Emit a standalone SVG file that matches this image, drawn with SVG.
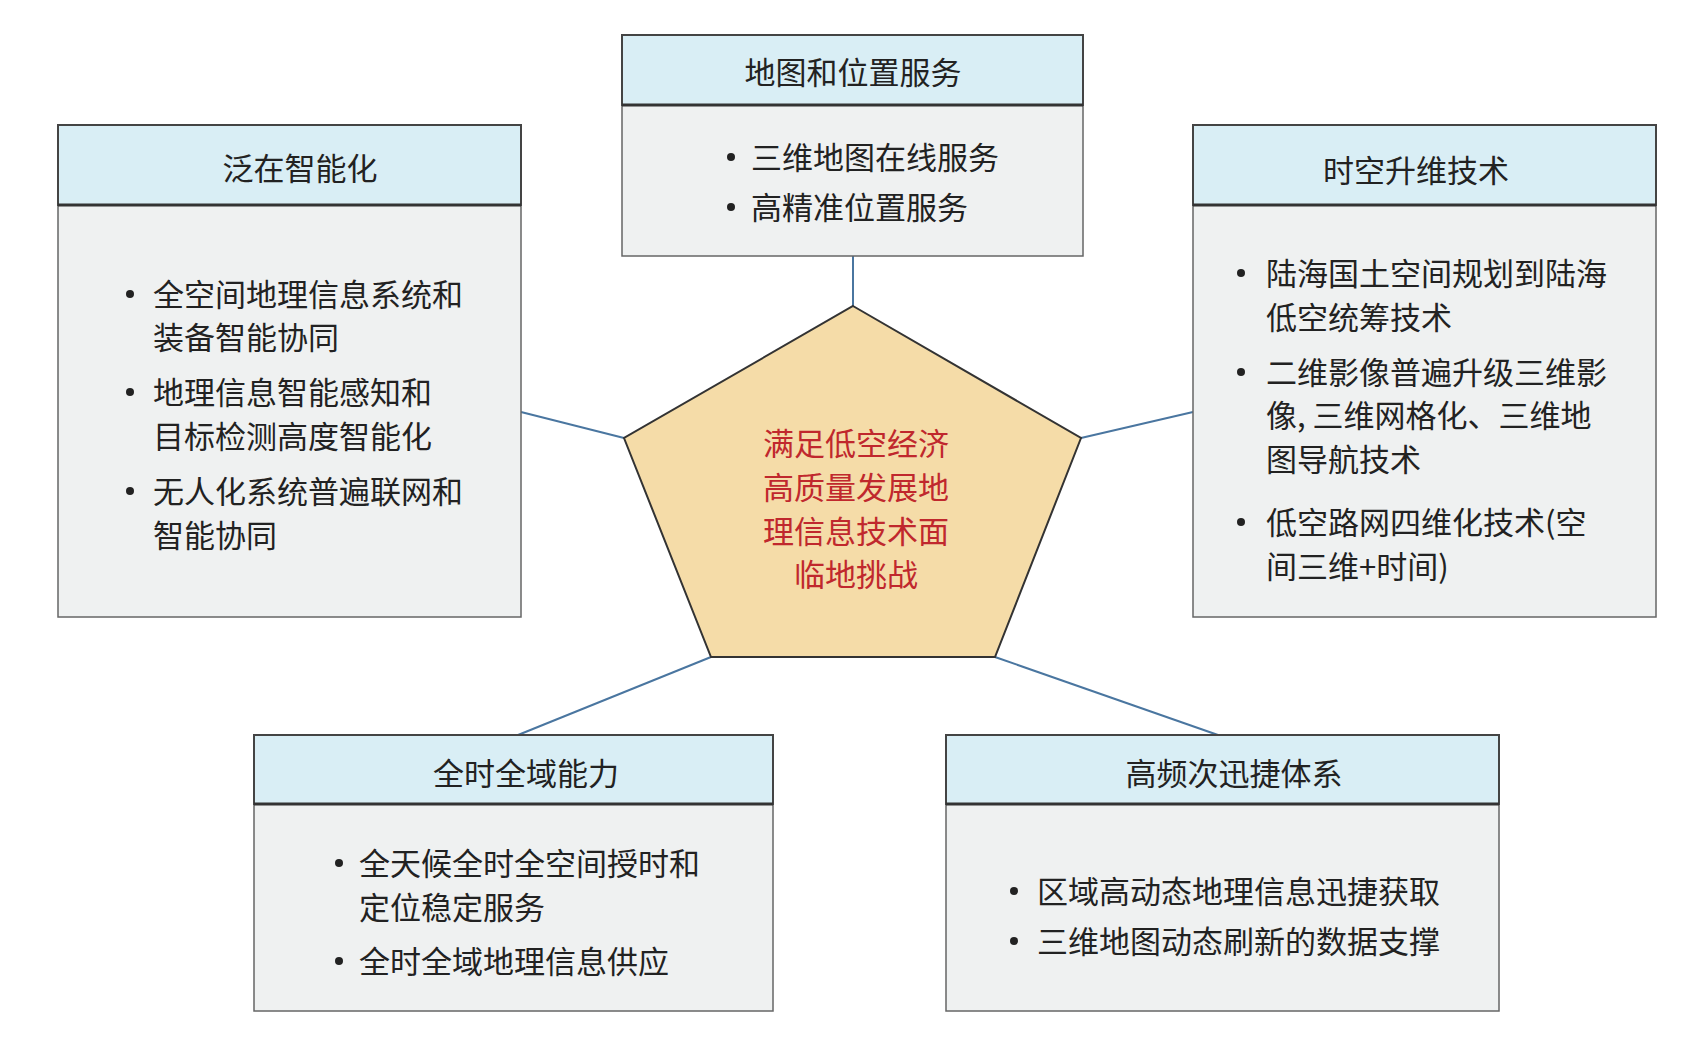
<svg xmlns="http://www.w3.org/2000/svg" width="1685" height="1057" viewBox="0 0 1685 1057">
<style>
text{font-family:"Noto Sans CJK SC","Liberation Serif",sans-serif;font-size:31px;fill:#222;dominant-baseline:central}
.hd{fill:#d9eef5;stroke:#444;stroke-width:2}
.bd{fill:#eff1f1;stroke:#666;stroke-width:1.5}
.hl{stroke:#333;stroke-width:3}
.c{stroke:#4a76a0;stroke-width:2;fill:none}
.t{text-anchor:middle}
.r{fill:#c0282d;text-anchor:middle}
.b{fill:#222}
</style>
<rect width="1685" height="1057" fill="#fff"/>
<g id="connectors">
<line class="c" x1="853" y1="256" x2="853" y2="306"/>
<line class="c" x1="521" y1="412" x2="624" y2="438"/>
<line class="c" x1="1081" y1="438" x2="1193" y2="412"/>
<line class="c" x1="711" y1="657" x2="518" y2="735"/>
<line class="c" x1="995" y1="657" x2="1218" y2="735"/>
</g>
<g id="center">
<polygon points="853,306 1081,438 995,657 711,657 624,438" fill="#f5dca8" stroke="#333" stroke-width="2"/>
<text class="r" x="856" y="441">满足低空经济</text>
<text class="r" x="856" y="485">高质量发展地</text>
<text class="r" x="856" y="529">理信息技术面</text>
<text class="r" x="856" y="572">临地挑战</text>
</g>
<g id="top">
<rect class="bd" x="622" y="35" width="461" height="221"/>
<rect class="hd" x="622" y="35" width="461" height="70"/>
<line class="hl" x1="622" y1="105" x2="1083" y2="105"/>
<text class="t" x="853" y="70">地图和位置服务</text>
<circle class="b" cx="731" cy="157" r="4"/><text x="751" y="155">三维地图在线服务</text>
<circle class="b" cx="731" cy="207" r="4"/><text x="751" y="205">高精准位置服务</text>
</g>
<g id="left">
<rect class="bd" x="58" y="125" width="463" height="492"/>
<rect class="hd" x="58" y="125" width="463" height="80"/>
<line class="hl" x1="58" y1="205" x2="521" y2="205"/>
<text class="t" x="300" y="166">泛在智能化</text>
<circle class="b" cx="130" cy="294" r="4"/><text x="153" y="292">全空间地理信息系统和</text>
<text x="153" y="335">装备智能协同</text>
<circle class="b" cx="130" cy="392" r="4"/><text x="153" y="390">地理信息智能感知和</text>
<text x="153" y="434">目标检测高度智能化</text>
<circle class="b" cx="130" cy="491" r="4"/><text x="153" y="489">无人化系统普遍联网和</text>
<text x="153" y="533">智能协同</text>
</g>
<g id="right">
<rect class="bd" x="1193" y="125" width="463" height="492"/>
<rect class="hd" x="1193" y="125" width="463" height="80"/>
<line class="hl" x1="1193" y1="205" x2="1656" y2="205"/>
<text class="t" x="1416" y="168">时空升维技术</text>
<circle class="b" cx="1241" cy="273" r="4"/><text x="1266" y="271">陆海国土空间规划到陆海</text>
<text x="1266" y="315">低空统筹技术</text>
<circle class="b" cx="1241" cy="372" r="4"/><text x="1266" y="370">二维影像普遍升级三维影</text>
<text x="1266" y="413">像, 三维网格化、三维地</text>
<text x="1266" y="457">图导航技术</text>
<circle class="b" cx="1241" cy="522" r="4"/><text x="1266" y="520">低空路网四维化技术(空</text>
<text x="1266" y="564">间三维+时间)</text>
</g>
<g id="bottomleft">
<rect class="bd" x="254" y="735" width="519" height="276"/>
<rect class="hd" x="254" y="735" width="519" height="69"/>
<line class="hl" x1="254" y1="804" x2="773" y2="804"/>
<text class="t" x="526" y="771">全时全域能力</text>
<circle class="b" cx="339" cy="863" r="4"/><text x="359" y="861">全天候全时全空间授时和</text>
<text x="359" y="905">定位稳定服务</text>
<circle class="b" cx="339" cy="961" r="4"/><text x="359" y="959">全时全域地理信息供应</text>
</g>
<g id="bottomright">
<rect class="bd" x="946" y="735" width="553" height="276"/>
<rect class="hd" x="946" y="735" width="553" height="69"/>
<line class="hl" x1="946" y1="804" x2="1499" y2="804"/>
<text class="t" x="1234" y="771">高频次迅捷体系</text>
<circle class="b" cx="1014" cy="891" r="4"/><text x="1037" y="889">区域高动态地理信息迅捷获取</text>
<circle class="b" cx="1014" cy="941" r="4"/><text x="1037" y="939">三维地图动态刷新的数据支撑</text>
</g>
</svg>
